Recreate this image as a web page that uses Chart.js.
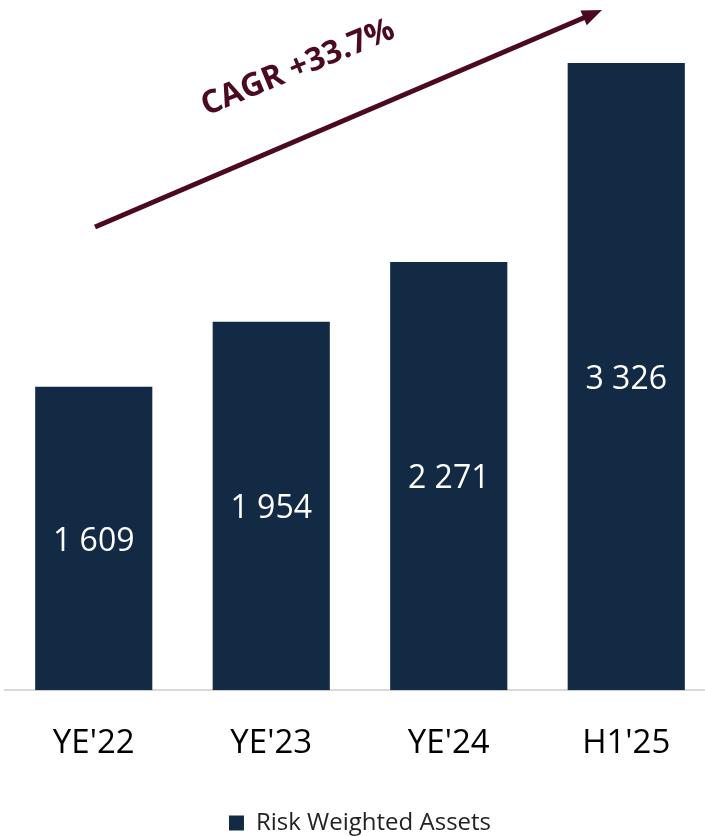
<!DOCTYPE html>
<html>
<head>
<meta charset="utf-8">
<script src="https://cdn.jsdelivr.net/npm/chart.js@4"></script>
<style>
  html, body { margin: 0; padding: 0; background: #ffffff; overflow: hidden; }
  #wrap { width: 715px; height: 836px; }
</style>
</head>
<body>
<div id="wrap"><canvas id="rwaChart" width="715" height="836"></canvas></div>
<script>
// Chart data
const periods = ["YE'22", "YE'23", "YE'24", "H1'25"];
const rwaValues = [1609, 1954, 2271, 3326];
const seriesName = "Risk Weighted Assets";
const cagrText = "CAGR +33.7%";

const NAVY = "#132a44";
const MAROON = "#4b0a22";

function formatValue(v) {
  return String(v).replace(/\B(?=(\d{3})+(?!\d))/g, " ");
}

// White value labels in the middle of each bar
const valueLabels = {
  id: "valueLabels",
  afterDatasetsDraw(chart) {
    const ctx = chart.ctx;
    const meta = chart.getDatasetMeta(0);
    ctx.save();
    ctx.fillStyle = "#ffffff";
    ctx.font = "32px 'Open Sans', sans-serif";
    ctx.textAlign = "center";
    ctx.textBaseline = "middle";
    meta.data.forEach(function (bar, i) {
      const mid = (bar.y + bar.base) / 2 + 3;
      ctx.fillText(formatValue(rwaValues[i]), bar.x, mid);
    });
    ctx.restore();
  },
};

// CAGR arrow above the bars
const cagrArrow = {
  id: "cagrArrow",
  afterDraw(chart) {
    const ctx = chart.ctx;
    const x0 = 95, y0 = 227, x1 = 602, y1 = 10;
    const ang = Math.atan2(y1 - y0, x1 - x0);
    const head = 20;
    ctx.save();
    ctx.strokeStyle = MAROON;
    ctx.fillStyle = MAROON;
    ctx.lineWidth = 5;
    ctx.beginPath();
    ctx.moveTo(x0, y0);
    ctx.lineTo(x1 - head * 0.7 * Math.cos(ang), y1 - head * 0.7 * Math.sin(ang));
    ctx.stroke();
    ctx.beginPath();
    ctx.moveTo(x1, y1);
    ctx.lineTo(x1 - head * Math.cos(ang) + 8 * Math.sin(ang), y1 - head * Math.sin(ang) - 8 * Math.cos(ang));
    ctx.lineTo(x1 - head * Math.cos(ang) - 8 * Math.sin(ang), y1 - head * Math.sin(ang) + 8 * Math.cos(ang));
    ctx.closePath();
    ctx.fill();

    ctx.translate(298, 68);
    ctx.rotate(-22.5 * Math.PI / 180);
    ctx.font = "bold 32px 'Open Sans', sans-serif";
    ctx.textAlign = "center";
    ctx.textBaseline = "middle";
    ctx.fillText(cagrText, 0, 0);
    ctx.restore();
  },
};

const ctx = document.getElementById("rwaChart").getContext("2d");
window.rwaChart = new Chart(ctx, {
  type: "bar",
  data: {
    labels: periods,
    datasets: [
      {
        label: seriesName,
        data: rwaValues,
        backgroundColor: NAVY,
        borderWidth: 0,
        barPercentage: 0.66,
        categoryPercentage: 1,
      },
    ],
  },
  options: {
    responsive: false,
    animation: false,
    layout: {
      padding: { left: 5, right: 0, top: 0, bottom: -9 },
    },
    scales: {
      y: {
        display: false,
        min: 0,
        max: 3660,
      },
      x: {
        grid: { display: false },
        border: { display: true, color: "#d9d9d9", width: 2 },
        ticks: {
          color: "#000000",
          padding: 19,
          font: { size: 33, lineHeight: 1.57, family: "'Open Sans', sans-serif" },
        },
      },
    },
    plugins: {
      legend: {
        position: "bottom",
        labels: {
          color: "#222222",
          boxWidth: 15,
          boxHeight: 15,
          padding: 23,
          font: { size: 24, family: "'Open Sans', sans-serif" },
        },
      },
      tooltip: { enabled: false },
    },
  },
  plugins: [valueLabels, cagrArrow],
});
</script>
</body>
</html>
